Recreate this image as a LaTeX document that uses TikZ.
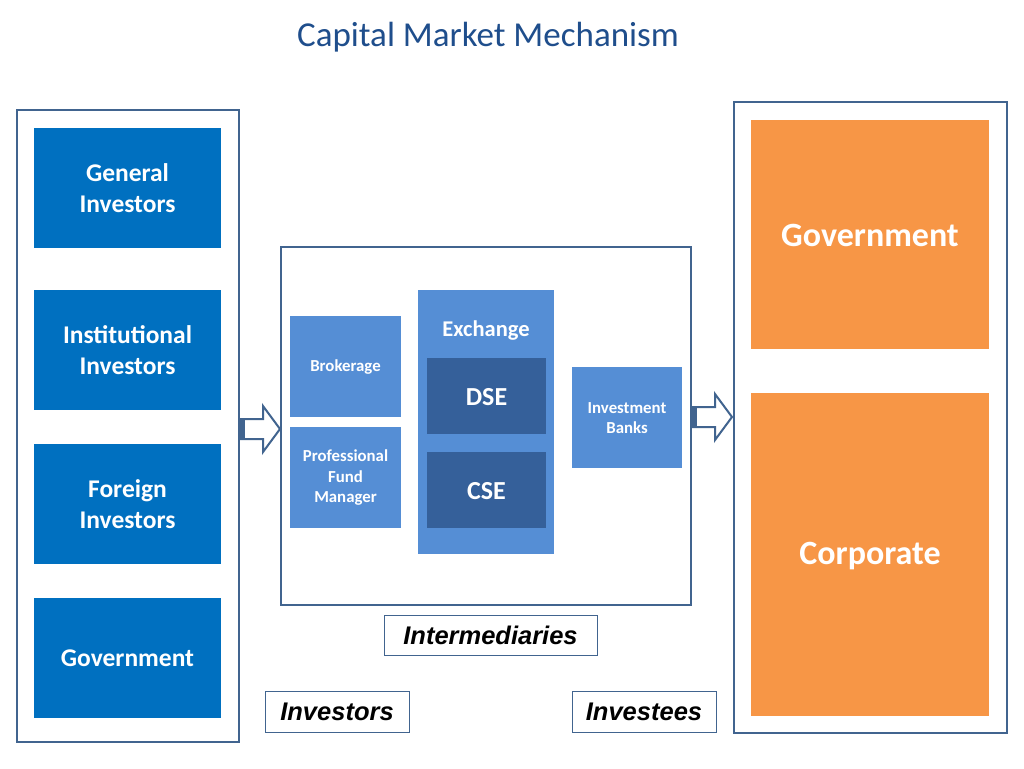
\documentclass[tikz,border=0pt]{standalone}
\usepackage{fontspec}
\setmainfont{Carlito}
\newfontfamily\arialf{Liberation Sans}
\definecolor{titleblue}{HTML}{1F4E8C}
\definecolor{frameblue}{HTML}{41648F}
\definecolor{boxblue}{HTML}{0070C0}
\definecolor{midblue}{HTML}{558ED5}
\definecolor{darkblue}{HTML}{35609A}
\definecolor{orangebox}{HTML}{F79646}
\begin{document}
\begin{tikzpicture}[x=1pt,y=-1pt,
  frame/.style={draw=frameblue,line width=2.2pt},
  invbox/.style={fill=boxblue,text=white,font=\fontsize{25.5}{31}\selectfont\bfseries,align=center},
  midbox/.style={fill=midblue,text=white,font=\fontsize{16.8}{20.5}\selectfont\bfseries,align=center},
  dbox/.style={fill=darkblue,text=white,font=\fontsize{26}{30}\selectfont\bfseries,align=center},
  obox/.style={fill=orangebox,text=white,font=\fontsize{34}{40}\selectfont\bfseries,align=center},
  lblfont/.style={font=\arialf\fontsize{25.5}{30}\selectfont\bfseries\itshape},
  lblframe/.style={draw=frameblue,line width=0.8pt},
  blockarrow/.style={draw=frameblue,line width=2pt,fill=white,line join=miter}
]
\useasboundingbox (0,0) rectangle (1024,768);
\fill[white] (0,0) rectangle (1024,768);
\node[text=titleblue,font=\fontsize{35}{40}\selectfont] (title) at (488,37) {Capital Market Mechanism};
% left frame
\draw[frame] (17,110) rectangle (239,742);
\fill[boxblue] (34,128) rectangle (221,248);
\node[invbox] (gi) at (127.5,188) {General\\Investors};
\fill[boxblue] (34,290) rectangle (221,410);
\node[invbox] (ii) at (127.5,350) {Institutional\\Investors};
\fill[boxblue] (34,444) rectangle (221,564);
\node[invbox] (fi) at (127.5,504) {Foreign\\Investors};
\fill[boxblue] (34,598) rectangle (221,718);
\node[invbox] (gv) at (127.5,658) {Government};
% middle frame
\draw[frame] (281,247) rectangle (691,605);
\fill[midblue] (290,316) rectangle (401,417);
\node[midbox] (br) at (345.5,367) {Brokerage};
\fill[midblue] (290,427) rectangle (401,528);
\node[midbox] (pf) at (345.5,478) {Professional\\Fund\\Manager};
\fill[midblue] (418,290) rectangle (554,554);
\node[midbox,font=\fontsize{22.5}{26}\selectfont\bfseries] (ex) at (486,331) {Exchange};
\fill[darkblue] (427,358) rectangle (546,434);
\node[dbox] (dse) at (486.5,397) {DSE};
\fill[darkblue] (427,452) rectangle (546,528);
\node[dbox] (cse) at (486.5,491) {CSE};
\fill[midblue] (572,367) rectangle (682,468);
\node[midbox] (ib) at (627,418) {Investment\\Banks};
% right frame
\draw[frame] (734,102) rectangle (1007,733);
\fill[orangebox] (751,120) rectangle (989,349);
\node[obox] (gov) at (870,235) {Government};
\fill[orangebox] (751,393) rectangle (989,716);
\node[obox] (corp) at (870,556) {Corporate};
% block arrows (frame to frame)
\coordinate (a1s) at (239,429);
\coordinate (a1t) at (280,429);
\draw[blockarrow] ([shift={(0,-10)}]a1s) -- ++(24,0) -- ++(0,-13) -- (a1t) -- ++(-17,23) -- ++(0,-13) -- ++(-24,0) -- cycle;
\fill[frameblue] (240,420) rectangle (245,438);
\coordinate (a2s) at (691,417);
\coordinate (a2t) at (732,417);
\draw[blockarrow] ([shift={(0,-10)}]a2s) -- ++(24,0) -- ++(0,-13) -- (a2t) -- ++(-17,23) -- ++(0,-13) -- ++(-24,0) -- cycle;
\fill[frameblue] (692,408) rectangle (697,426);
% labels
\draw[lblframe] (384,615) rectangle (597,655);
\node[lblfont] (lint) at (490.5,635) {Intermediaries};
\draw[lblframe] (265,691) rectangle (409,732);
\node[lblfont] (linv) at (337,712) {Investors};
\draw[lblframe] (572,691) rectangle (716,732);
\node[lblfont] (linvs) at (644,712) {Investees};
\end{tikzpicture}
\end{document}
